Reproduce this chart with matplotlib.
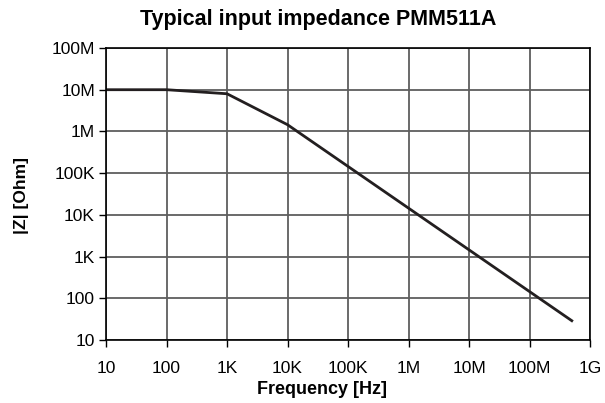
import matplotlib
matplotlib.use("Agg")
import matplotlib.pyplot as plt
from matplotlib.ticker import FixedLocator, FixedFormatter, NullLocator

plt.rcParams['font.family'] = ['Liberation Sans', 'DejaVu Sans']

freq_hz = [10, 100, 1e3, 1e4, 5e8]
impedance_ohm = [1e7, 1e7, 8e6, 1.45e6, 29]

x_ticks = [10, 100, 1e3, 1e4, 1e5, 1e6, 1e7, 1e8, 1e9]
x_labels = ["10", "100", "1K", "10K", "100K", "1M", "10M", "100M", "1G"]
y_ticks = [10, 100, 1e3, 1e4, 1e5, 1e6, 1e7, 1e8]
y_labels = ["10", "100", "1K", "10K", "100K", "1M", "10M", "100M"]

W, H = 605, 403
fig = plt.figure(figsize=(6.05, 4.03), dpi=100)
ax = fig.add_axes([106 / W, 1 - 340 / H, 484 / W, 292 / H])
ax.set_xscale('log')
ax.set_yscale('log')
ax.set_xlim(10, 1e9)
ax.set_ylim(10, 1e8)

ax.plot(freq_hz, impedance_ohm, color='#231f20', linewidth=2, solid_joinstyle='miter')

ax.xaxis.set_major_locator(FixedLocator(x_ticks))
ax.xaxis.set_major_formatter(FixedFormatter(x_labels))
ax.yaxis.set_major_locator(FixedLocator(y_ticks))
ax.yaxis.set_major_formatter(FixedFormatter(y_labels))
ax.xaxis.set_minor_locator(NullLocator())
ax.yaxis.set_minor_locator(NullLocator())

ax.grid(True, which='major', color='#5e5e5e', linewidth=1.3)
ax.set_axisbelow(True)
for s in ax.spines.values():
    s.set_color('black')
    s.set_linewidth(1.2)

ax.tick_params(axis='both', direction='out', length=5, width=1, color='black',
               labelsize=12.5, pad=3)
ax.tick_params(axis='x', pad=10)

fig.text(318 / W, 1 - 19 / H, "Typical input impedance PMM511A", fontsize=15.5,
         fontweight='bold', ha='center', va='center')
fig.text(322 / W, 1 - 389 / H, "Frequency [Hz]", fontsize=13,
         fontweight='bold', ha='center', va='center')
fig.text(22 / W, 1 - 196 / H, "|Z| [Ohm]", fontsize=12.5, fontweight='bold',
         ha='center', va='center', rotation=90)

fig.savefig("out.png", dpi=100)
